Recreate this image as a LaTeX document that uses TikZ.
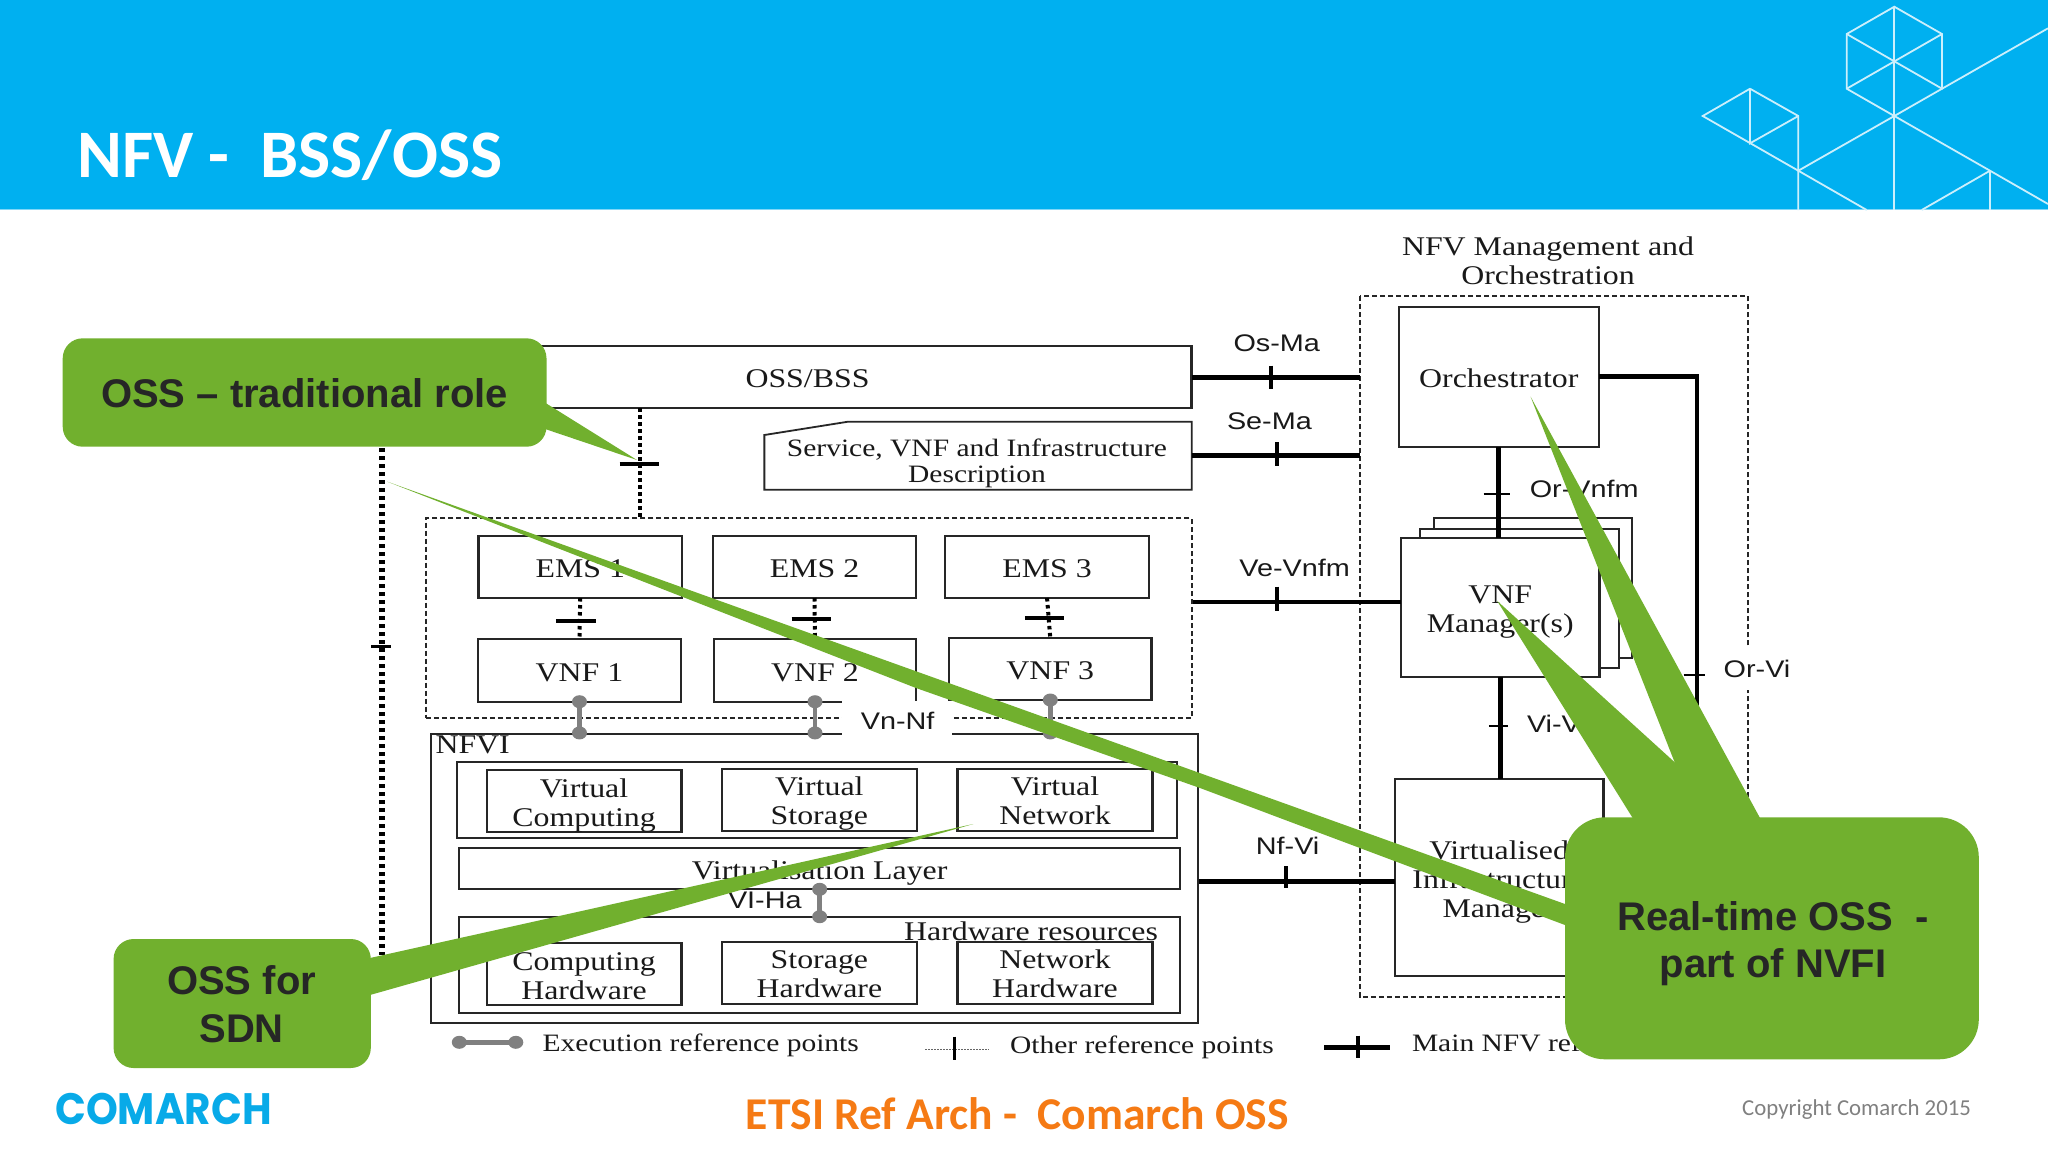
\documentclass[tikz,border=0pt]{standalone}
\usepackage{fontspec}
\usetikzlibrary{calc}
\newfontfamily\serifd{Liberation Serif}[FakeStretch=1.18]
\newfontfamily\sansd{Liberation Sans}[FakeStretch=1.2]
\newfontfamily\calib{Carlito}
\newfontfamily\callf{Liberation Sans}
\newfontfamily\logof{Poppins}[FakeStretch=0.92]
\definecolor{hdr}{HTML}{00B0F0}
\definecolor{grn}{HTML}{71B02E}
\definecolor{dark}{HTML}{262626}
\definecolor{org}{HTML}{F57A14}
\definecolor{logoc}{HTML}{08AAE8}
\definecolor{gry}{HTML}{808080}

% box given by its corners: name, x1, y1, x2, y2, text
% the two rules keep every label on the same line whatever its descenders
\newcommand{\boxn}[6]{%
  \pgfmathsetmacro\bw{#4-#2}\pgfmathsetmacro\bh{#5-#3}%
  \node[box,minimum width=\bw pt,minimum height=\bh pt] (#1) at ({(#2+#4)/2},{(#3+#5)/2})
    {\rule{0pt}{27pt}#6\rule[-6pt]{0pt}{0pt}};}
% execution reference point: line with a dot at each end
\newcommand{\execl}[2]{%
  \draw[exec] (#1) -- (#2);
  \fill[gry] (#1) ellipse[x radius=7.5,y radius=6.5];
  \fill[gry] (#2) ellipse[x radius=7.5,y radius=6.5];}

\begin{document}
\begin{tikzpicture}[x=1pt,y=-1pt,
  box/.style={draw=black!85,line width=2.3pt,fill=white,inner sep=0pt,outer sep=0pt,align=center,text=black!90,
    font=\serifd\fontsize{27}{29}\selectfont},
  plain/.style={inner sep=0pt,outer sep=0pt,align=center,text=black!90,font=\serifd\fontsize{27}{29}\selectfont},
  small/.style={plain,font=\serifd\fontsize{25}{26}\selectfont},
  ref/.style={inner sep=0pt,outer sep=0pt,text=black!90,font=\sansd\fontsize{24}{28}\selectfont},
  dashbox/.style={draw=black!85,line width=1.8pt,dash pattern=on 5pt off 3pt},
  main/.style={draw=black,line width=5pt},
  tick/.style={draw=black,line width=4pt},
  thin tick/.style={draw=black,line width=2pt},
  other/.style={draw=black,line width=4pt,dash pattern=on 3.5pt off 3.5pt},
  exec/.style={draw=gry,line width=4.5pt},
  deco/.style={draw=white!80!hdr,line width=1.8pt},
  callout/.style={fill=grn,draw=none},
  calltxt/.style={inner sep=0pt,align=center,text=dark,font=\callf\bfseries\fontsize{40}{47.5}\selectfont},
]
\useasboundingbox (0,0) rectangle (2048,1152);
\fill[white] (0,0) rectangle (2048,1152);

% header
\fill[hdr] (0,0) rectangle (2048,210);
\draw[draw=hdr!50,line width=1.5pt] (0,209.5) -- (2048,209.5);
\node[anchor=base west,inner sep=0pt,text=white,font=\calib\bfseries\fontsize{68}{72}\selectfont] (title) at (77,177) {NFV -\ \ BSS/OSS};
\coordinate (ct) at (1894.3,6.7);
\coordinate (cul) at (1846.7,34);
\coordinate (cur) at (1942,34);
\coordinate (cc) at (1894.3,61.3);
\coordinate (cll) at (1846.7,88.7);
\coordinate (clr) at (1942,88.7);
\coordinate (cb) at (1894.3,116);
\coordinate (st) at (1750,88.7);
\coordinate (sl) at (1702.7,116);
\coordinate (sr) at (1798.3,116);
\coordinate (sb) at (1750,143.3);
\coordinate (j1) at (1798.3,170.7);
\coordinate (j2) at (1990,170.7);
\draw[deco] (ct) -- (cur) -- (clr) -- (cb) -- (cll) -- (cul) -- cycle;
\draw[deco] (cul) -- (clr) -- (2048,28.3);
\draw[deco] (cur) -- (cll);
\draw[deco] (ct) -- (1894.3,210);
\draw[deco] (cb) -- (j1) -- (1798.3,210);
\draw[deco] (st) -- (sr) -- (j1) -- (1866.7,210);
\draw[deco] (st) -- (sl) -- (j1);
\draw[deco] (st) -- (sb) -- (sr);
\draw[deco] (cb) -- (j2) -- (2048,204);
\draw[deco] (j2) -- (1990,210);
\draw[deco] (j2) -- (1921.7,210);

% NFV-MANO frame and the boxes
\node[plain] (manolbl) at (1548,261) {NFV Management and\\Orchestration};
\coordinate (mano-tl) at (1359.6,296);
\coordinate (mano-br) at (1747.6,996.7);
\draw[dashbox] (mano-tl) rectangle (mano-br);
\boxn{oss}{470}{346}{1191.6}{408.3}{}
\node[plain] (osslbl) at (807.5,379) {OSS/BSS};
\node[inner sep=0pt,outer sep=0pt,minimum width=427.3pt,minimum height=68pt] (descr) at (978,455.7) {};
\draw[draw=black!85,line width=1.8pt,fill=white] (descr.south west) -- (descr.west |- 0,435) -- (848,421.7) -- (descr.north east) -- (descr.south east) -- cycle;
\node[small] (descrlbl) at (977,463.5) {Service, VNF and Infrastructure\\Description};
\node[draw=black!85,line width=1.8pt,dash pattern=on 5pt off 3pt,inner sep=0pt,minimum width=765.8pt,minimum height=200pt] (vnfframe) at (808.7,618.3) {};

\boxn{ems1}{478.5}{535.7}{682}{598}{EMS 1}
\boxn{ems2}{713.3}{535.7}{915.7}{598}{EMS 2}
\boxn{ems3}{945.3}{535.7}{1148.8}{598}{EMS 3}
\boxn{vnf1}{478}{639.3}{681}{701.7}{VNF 1}
\boxn{vnf2}{713.8}{639.3}{916.2}{701.7}{VNF 2}
\boxn{vnf3}{949}{638.3}{1151.6}{700}{VNF 3}
\draw[other] (ems1.south) -- (vnf1.north);
\draw[other] (ems2.south) -- (vnf2.north);
\draw[other] (ems3.south) -- (vnf3.north);
\draw[tick] (555.8,621) -- (595.9,621);
\draw[tick] (791.7,619) -- (830.6,619);
\draw[tick] (1024.8,618) -- (1064.3,618);
\coordinate (ossdn) at (639.8,408.3);
\draw[other] (ossdn) -- (ossdn |- vnfframe.north);
\draw[tick] (619.5,463.7) -- (659,463.7);
\coordinate (leftup) at (382,440);
\coordinate (leftdn) at (382,955);
\draw[draw=black,line width=5.5pt,dash pattern=on 4pt off 4pt] (leftup) -- (leftdn);
\draw[tick,line width=3pt] (371,646) -- (391,646);

% NFVI
\node[draw=black!85,line width=2.2pt,inner sep=0pt,minimum width=766.3pt,minimum height=289.3pt] (nfvi) at (814.5,878.7) {};
\node[plain,anchor=west] (nfvilbl) at (435.5,745) {NFVI};
\boxn{vgrp}{457}{762.3}{1177.3}{837.7}{}
\boxn{vcomp}{486.7}{771.7}{681.4}{830.7}{Virtual\\Computing}
\boxn{vstor}{722}{770}{916.8}{829.3}{Virtual\\Storage}
\boxn{vnet}{957.4}{770}{1152.6}{829.3}{Virtual\\Network}
\boxn{vlay}{459.3}{847.7}{1180}{889.3}{Virtualisation Layer}
\boxn{hwres}{459.3}{916.7}{1180}{1012.7}{}
\node[plain,anchor=east] (hwlbl) at (1158,931.7) {Hardware resources};
\boxn{chw}{486.7}{944.3}{681.4}{1003.7}{Computing\\Hardware}
\boxn{shw}{722}{943}{916.8}{1002.3}{Storage\\Hardware}
\boxn{nhw}{957.4}{943}{1152.6}{1002.3}{Network\\Hardware}
\node[ref] (viha) at (764.8,900) {VI-Ha};
\execl{vlay.south}{hwres.north}

% execution points and the Vn-Nf label
\execl{vnf1.south}{vnf1.south |- nfvi.north}
\execl{vnf2.south}{vnf2.south |- nfvi.north}
\execl{vnf3.south}{vnf3.south |- nfvi.north}
\node[fill=white,inner sep=0pt,minimum width=110.8pt,minimum height=40pt] (vnbg) at (897,721) {};
\node[ref] (vnnf) at (897.6,721) {Vn-Nf};

% management boxes
\boxn{orch}{1398.8}{307.3}{1598.8}{446.7}{Orchestrator}
\boxn{vnfmc}{1433.9}{518.3}{1631.8}{657.7}{}
\boxn{vnfmb}{1420}{528.7}{1618.8}{668.3}{}
\boxn{vnfm}{1400.8}{537.7}{1599.6}{676.7}{VNF\\Manager(s)}
\boxn{vim}{1394.7}{779.3}{1603.5}{976}{Virtualised\\Infrastructure\\Manager}
\draw[main] (oss.east |- orch.west) -- (mano-tl |- orch.west);
\draw[tick] (1271.4,365.7) -- (1271.4,389);
\node[ref] (osma) at (1276.7,343.3) {Os-Ma};
\draw[main,line width=4.5pt] (descr.east) -- (mano-tl |- descr.east);
\draw[tick] (1276.7,442) -- (1276.7,465.7);
\node[ref] (sema) at (1269.4,421.7) {Se-Ma};
\coordinate (veend) at (vnfm.west |- 0,602);
\draw[main,line width=4.5pt] (vnfframe.east |- veend) -- (veend);
\draw[tick] (1276.7,586.7) -- (1276.7,610.7);
\node[ref] (vevnfm) at (1294.7,567.7) {Ve-Vnfm};
\coordinate (nfend) at (vim.west |- 0,881.7);
\draw[main] (nfvi.east |- nfend) -- (nfend);
\draw[tick] (1286,866) -- (1286,888.3);
\node[ref] (nfvi2) at (1287.6,845.7) {Nf-Vi};
\draw[main] (orch.south) -- (orch.south |- vnfm.north);
\draw[thin tick] (1483.7,494.3) -- (1510,494.3);
\node[ref,anchor=west] (orvnfm) at (1529.8,489.3) {Or-Vnfm};
\draw[main] (vnfm.south) -- (vnfm.south |- vim.north);
\draw[thin tick] (1488.8,725.7) -- (1508.3,725.7);
\node[ref,anchor=west] (vivnfm) at (1527,724) {Vi-Vnfm};
\fill[white] (1735,648) rectangle (1760,690);
\draw[main,line width=4.5pt] (orch.east |- 0,376.7) -- (1697,376.7) -- (1697,900) -- (vim.east |- 0,900);
\draw[thin tick] (1683.7,675) -- (1705,675);
\node[ref,anchor=west] (orvi) at (1723.7,669) {Or-Vi};

% legend
\coordinate (ex1) at (459.3,1042.3);
\coordinate (ex2) at (515.8,1042.3);
\execl{ex1}{ex2}
\node[small,anchor=west] (lg1) at (542.7,1045) {Execution reference points};
\coordinate (ot1) at (925,1049.3);
\coordinate (ot2) at (988.6,1049.3);
\draw[draw=black!60,line width=1.5pt,dash pattern=on 1.5pt off 1.5pt] (ot1) -- (ot2);
\draw[draw=black,line width=2.5pt] (954.6,1036.7) -- (954.6,1060);
\node[small,anchor=west] (lg2) at (1010,1047) {Other reference points};
\coordinate (mn1) at (1324.4,1047);
\coordinate (mn2) at (1390.4,1047);
\draw[main] (mn1) -- (mn2);
\draw[tick] (1358,1035.7) -- (1358,1058);
\node[small,anchor=west] (lg3) at (1412,1045) {Main NFV reference points};

% callouts
\fill[callout] (1565,904) -- (387.4,481.7) -- (916,688) -- (1200,788) -- (1565,925) -- cycle;
\fill[callout] (1696.6,818) -- (1530.6,396.7) -- (1760,818) -- cycle;
\fill[callout] (1632.7,818) -- (1497,600.7) -- (1736,818) -- cycle;
\fill[callout,rounded corners=40pt] (1565,817.3) rectangle (1978.8,1059.3);
\node[calltxt] (rt) at (1773,943.5) {Real-time OSS\ \ -\\part of NVFI};

\fill[callout] (546,403.3) -- (637,460) -- (546,429.3) -- cycle;
\fill[callout,rounded corners=20pt] (62.7,338.3) rectangle (546.5,446.7);
\node[calltxt] (trad) at (304.5,393) {OSS – traditional role};

\fill[callout] (370,958) -- (973.3,824) -- (370,995) -- cycle;
\fill[callout,rounded corners=20pt] (113.6,939) rectangle (370.8,1068);
\node[calltxt] (sdn) at (241.6,1004) {OSS for\\SDN};

% footer
\node[inner sep=0pt,text=org,font=\calib\bfseries\fontsize{45.5}{50}\selectfont] (foot) at (1017.5,1114) {ETSI Ref Arch -\ \ Comarch OSS};
\node[anchor=west,inner sep=0pt,text=black!50,font=\calib\fontsize{22.8}{27}\selectfont] (copy) at (1742,1110) {Copyright Comarch 2015};
\node[anchor=west,inner sep=0pt,text=logoc,font=\logof\bfseries\fontsize{44}{48}\selectfont] (logo) at (55,1109) {COMARCH};
\end{tikzpicture}
\end{document}
